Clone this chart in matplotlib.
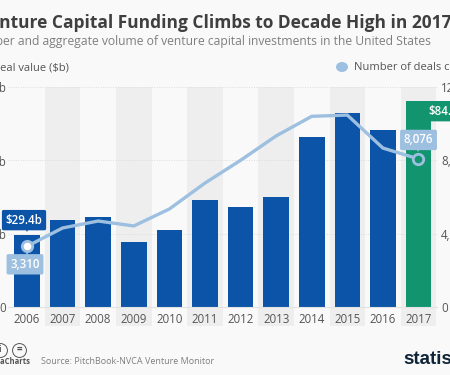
import matplotlib
matplotlib.use('Agg')
import matplotlib.pyplot as plt
from matplotlib.patches import Circle
from matplotlib.transforms import ScaledTranslation

plt.rcParams['font.family'] = ['Open Sans', 'DejaVu Sans']

years = [2006, 2007, 2008, 2009, 2010, 2011, 2012, 2013, 2014, 2015, 2016, 2017]
deal_value = [29.4, 35.6, 36.8, 26.5, 31.4, 43.8, 41, 45, 69.5, 79.4, 72.4, 84.2]
deals_closed = [3310, 4310, 4690, 4420, 5345, 6760, 8000, 9330, 10400, 10470, 8670, 8076]
left_ticks = [0, 30, 60, 90]
left_labels = ['0', '$30b', '$60b', '$90b']
right_ticks = [0, 4000, 8000, 12000]
right_labels = ['0', '4,000', '8,000', '12,000']

W, H = 450, 375
BG = '#f9f9f9'
BLUE = '#0b54a8'
GREEN = '#12956f'
LIGHT = '#9dbfe0'
GREY = '#eeeeee'
DARK = '#3f3f3f'
MID = '#7f7f7f'


def px(x, y):
    return x / W, 1 - y / H


fig = plt.figure(figsize=(W / 100, H / 100), dpi=100, facecolor=BG)
ax = fig.add_axes([8 / W, 1 - 307 / H, 429 / W, 220 / H], facecolor='none')
ax.set_xlim(-0.534, 11.52)
ax.set_ylim(0, 90)
ax.set_yticks(left_ticks)
ax.set_yticklabels(left_labels)
ax.set_xticks(range(len(years)))
ax.set_xticklabels(years)
ax.tick_params(axis='both', length=0, labelsize=8.3, labelcolor='#555555')
ax.tick_params(axis='x', pad=4)
ax.tick_params(axis='y', pad=1.5)
for s in ax.spines.values():
    s.set_visible(False)
ax.spines['bottom'].set_visible(True)
ax.spines['bottom'].set_color('#e2e2e2')
ax.grid(axis='y', color='#dddddd', lw=0.7, ls=(0, (1, 1.5)))
ax.set_axisbelow(True)

# alternating bands run down behind the year labels
for i in range(1, len(years), 2):
    ax.axvspan(i - 0.5, i + 0.5, ymin=-0.086, ymax=1, color=GREY, lw=0, clip_on=False, zorder=0)

colors = [BLUE] * (len(years) - 1) + [GREEN]
ax.bar(range(len(years)), deal_value, width=0.72, color=colors, zorder=2)

ax2 = ax.twinx()
ax2.set_ylim(0, 12000)
ax2.set_yticks(right_ticks)
ax2.set_yticklabels(right_labels)
ax2.tick_params(axis='y', length=0, labelsize=8.3, labelcolor='#555555', pad=3)
for s in ax2.spines.values():
    s.set_visible(False)
ax2.plot(range(len(years)), deals_closed, color=LIGHT, lw=2.4, zorder=3)
ax2.plot([0], deals_closed[0], 'o', ms=7.5, mfc='white', mec=LIGHT, mew=2, zorder=4)
ax2.plot([len(years) - 1], deals_closed[-1], 'o', ms=7.5, mfc=GREEN, mec=LIGHT, mew=2, zorder=4)


def tag(axis, x, y, text, color, dx, dy, marker=None, mx=0, my=0):
    axis.annotate(text, (x, y), xytext=(dx, dy), textcoords='offset pixels', ha='center', va='center',
                  color='white', fontsize=8.3, fontweight='semibold', annotation_clip=False, zorder=6,
                  bbox=dict(boxstyle='round,pad=0.32,rounding_size=0.15', fc=color, ec='none'))
    off = ScaledTranslation(mx / 100, my / 100, fig.dpi_scale_trans)
    axis.plot([x], [y], marker, ms=5, color=color, mew=0, clip_on=False, zorder=6,
              transform=axis.transData + off)


tag(ax, 0, deal_value[0], f'${deal_value[0]}b', BLUE, -3, 15, 'v', 0, 6)
tag(ax2, 0, deals_closed[0], f'{deals_closed[0]:,}', LIGHT, -2, -18, '^', 0, -9)
tag(ax2, 11, deals_closed[-1], f'{deals_closed[-1]:,}', LIGHT, 0, 19, 'v', 0, 10)
tag(ax, 11, deal_value[-1], f'${deal_value[-1]}b', GREEN, 28, -10, '<', 4, -10)

fig.text(*px(-22, 23), 'Venture Capital Funding Climbs to Decade High in 2017', fontsize=12.5,
         fontweight='bold', color=DARK, va='center')
fig.text(*px(-32, 42), 'Number and aggregate volume of venture capital investments in the United States',
         fontsize=8.7, color=MID, va='center')
fig.text(*px(-8, 67.5), 'Deal value ($b)', fontsize=8, color='#555555', va='center')
fig.text(*px(354, 67.5), 'Number of deals closed', fontsize=8, color='#555555', va='center')
fig.add_artist(Circle(px(342, 67), 6 / W, color=LIGHT, lw=0, transform=fig.transFigure))

# footer
for cx in (0, 19):
    fig.add_artist(plt.Line2D([cx / W], [1 - 349.5 / H], marker='o', ms=10, mfc='none', mec='#555555', mew=0.7))
fig.text(*px(0, 349), 'i', fontsize=6, fontweight='bold', color='#555555', ha='center', va='center')
fig.text(*px(19, 349), '=', fontsize=7, fontweight='bold', color='#555555', ha='center', va='center')
fig.text(*px(31, 362), 'StatistaCharts', fontsize=5.5, fontweight='bold', color='#555555', ha='right', va='center')
fig.text(*px(41, 362), 'Source: PitchBook-NVCA Venture Monitor', fontsize=6.5, color=MID, va='center')
fig.text(*px(403, 360), 'statista', fontsize=13.5, fontweight='bold', color='#0f2537', va='center',
         family='Liberation Sans')

fig.savefig('out.png', dpi=100, facecolor=BG)
